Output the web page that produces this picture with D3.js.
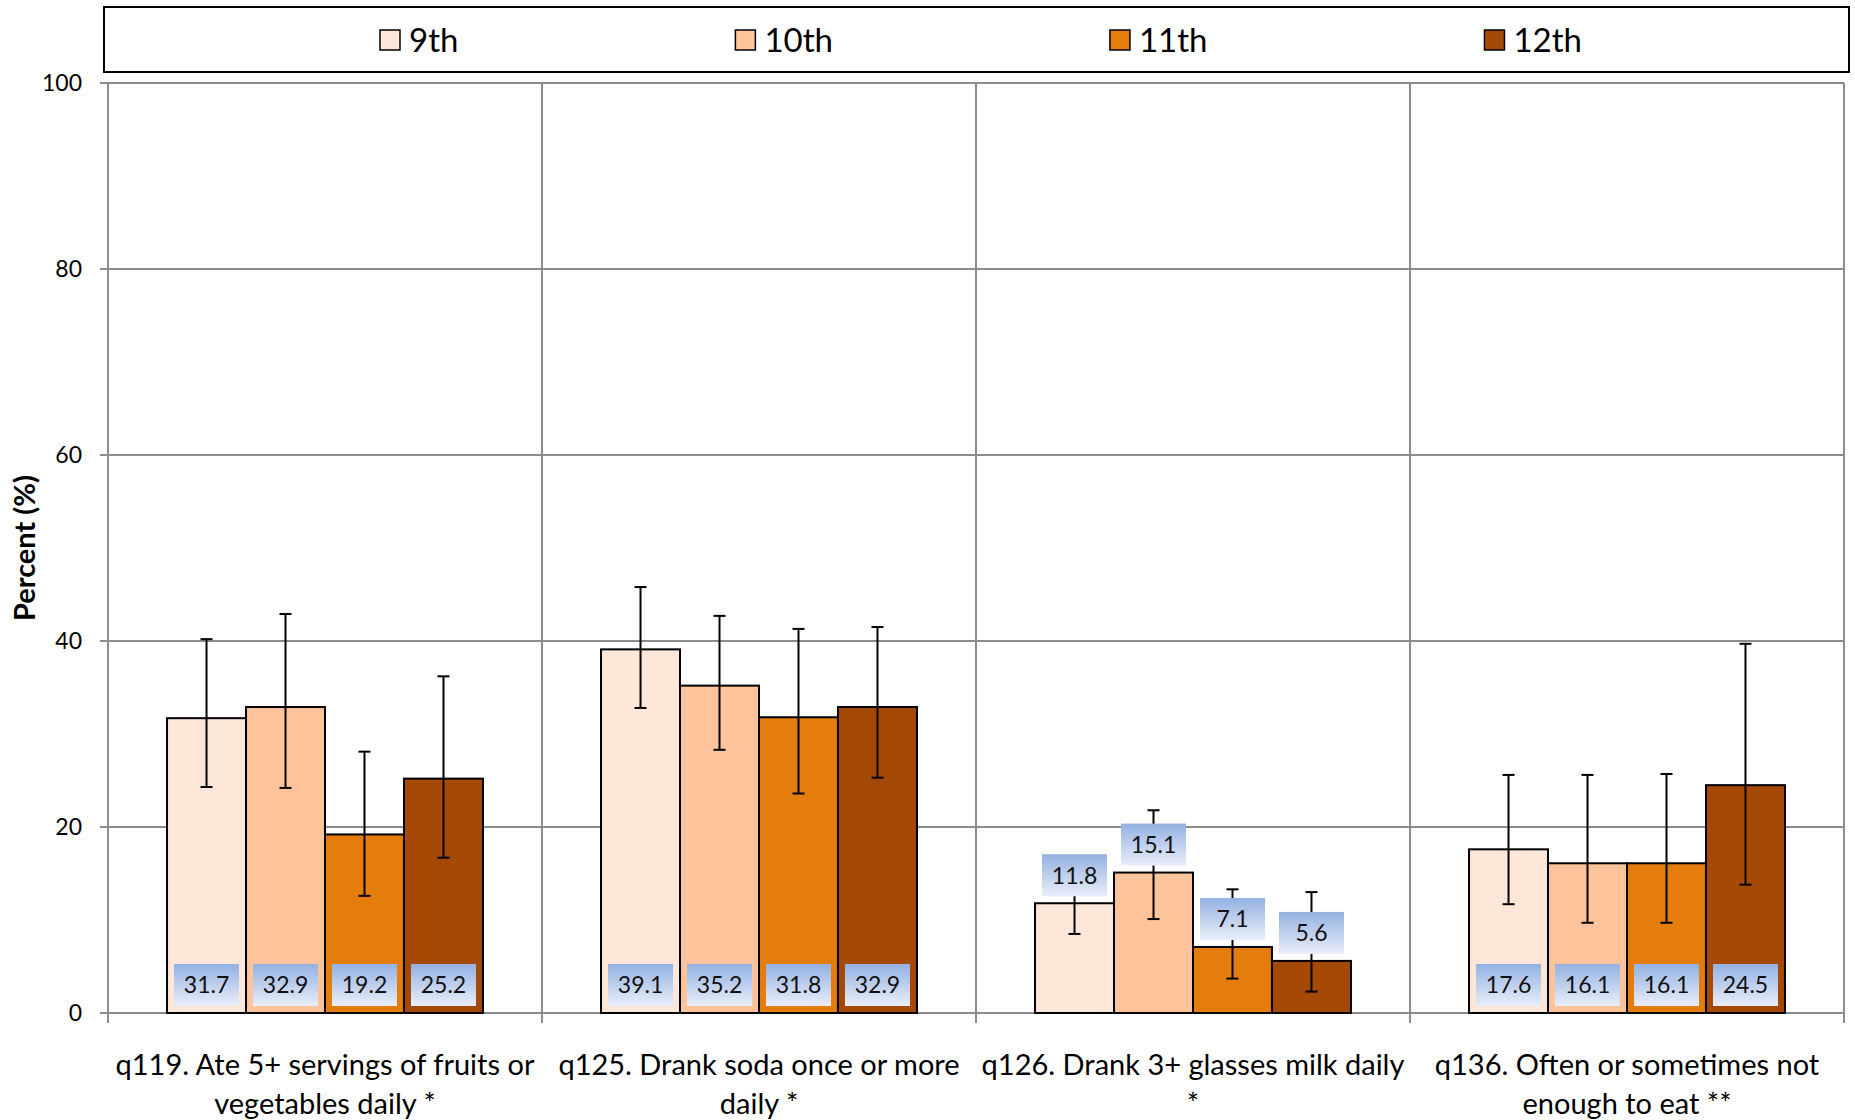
<!DOCTYPE html>
<html>
<head>
<meta charset="utf-8">
<script src="https://cdn.jsdelivr.net/npm/d3@7"></script>
<style>
  body { margin: 0; background: #fff; }
  svg { display: block; font-family: Lato, "Open Sans", sans-serif; }
</style>
</head>
<body>
<div id="container"></div>
<script>
// categories and their two-line labels
var categories = ['q119', 'q125', 'q126', 'q136'];
var categoryLines = [
	['q119. Ate 5+ servings of fruits or', 'vegetables daily *'],
	['q125. Drank soda once or more', 'daily *'],
	['q126. Drank 3+ glasses milk daily', '*'],
	['q136. Often or sometimes not', 'enough to eat **']
];
// where the value label sits for each category
var labelPlacement = ['base', 'base', 'end', 'base'];

var grades = ['9th', '10th', '11th', '12th'];
var gradeColors = ['#fee6d9', '#fdc39b', '#e47d0b', '#a44906'];

// percent per grade, one value per category
var pct9 = [31.7, 39.1, 11.8, 17.6];
var pct10 = [32.9, 35.2, 15.1, 16.1];
var pct11 = [19.2, 31.8, 7.1, 16.1];
var pct12 = [25.2, 32.9, 5.6, 24.5];

// confidence interval bounds
var low9 = [24.3, 32.8, 8.5, 11.7];
var low10 = [24.2, 28.3, 10.1, 9.7];
var low11 = [12.6, 23.6, 3.7, 9.7];
var low12 = [16.7, 25.3, 2.3, 13.8];
var high9 = [40.2, 45.8, 15.6, 25.6];
var high10 = [42.9, 42.7, 21.8, 25.6];
var high11 = [28.1, 41.3, 13.3, 25.7];
var high12 = [36.2, 41.5, 13.0, 39.7];

var yTicks = [0, 20, 40, 60, 80, 100];

var values = [pct9, pct10, pct11, pct12];
var lows = [low9, low10, low11, low12];
var highs = [high9, high10, high11, high12];

var data = [];
categories.forEach(function(c, ci) {
	grades.forEach(function(g, gi) {
		data.push({cat: c, ci: ci, grade: g, gi: gi,
			value: values[gi][ci], low: lows[gi][ci], high: highs[gi][ci]});
	});
});

var width = 1855;
var height = 1120;
var plotLeft = 108, plotRight = 1844, plotTop = 83, plotBottom = 1013;

var svg = d3.select('#container')
	.append('svg')
	.attr('width', width)
	.attr('height', height);

var defs = svg.append('defs');
var grad = defs.append('linearGradient')
	.attr('id', 'labelGrad')
	.attr('x1', 0).attr('y1', 0).attr('x2', 0).attr('y2', 1);
grad.append('stop').attr('offset', '0%').attr('stop-color', '#93b1e2');
grad.append('stop').attr('offset', '100%').attr('stop-color', '#e9eef9');

var x = d3.scaleBand()
	.domain(categories)
	.range([plotLeft, plotRight])
	.paddingInner(0.272)
	.paddingOuter(0.136);

var xInner = d3.scaleBand()
	.domain(grades)
	.range([0, x.bandwidth()]);

var y = d3.scaleLinear()
	.domain([0, 100])
	.range([plotBottom, plotTop]);

var color = d3.scaleOrdinal()
	.domain(grades)
	.range(gradeColors);

// gridlines
svg.append('g')
	.selectAll('line')
	.data(yTicks)
	.enter()
	.append('line')
	.attr('x1', plotLeft - 8)
	.attr('x2', plotRight)
	.attr('y1', (d) => y(d))
	.attr('y2', (d) => y(d))
	.attr('stroke', '#8c8c8c')
	.attr('stroke-width', 2);

var step = x.step();
var boundaries = [plotLeft].concat(categories.map((c, i) => plotLeft + step * (i + 1)));
svg.append('g')
	.selectAll('line')
	.data(boundaries)
	.enter()
	.append('line')
	.attr('x1', (d) => d)
	.attr('x2', (d) => d)
	.attr('y1', plotTop)
	.attr('y2', plotBottom + 10)
	.attr('stroke', '#8c8c8c')
	.attr('stroke-width', 2);

// y tick labels
svg.append('g')
	.selectAll('text')
	.data(yTicks)
	.enter()
	.append('text')
	.attr('x', plotLeft - 26)
	.attr('y', (d) => y(d))
	.attr('dy', '0.35em')
	.attr('text-anchor', 'end')
	.attr('font-size', 23)
	.attr('fill', '#000')
	.text((d) => d);

svg.append('text')
	.attr('transform', 'translate(35,' + ((plotTop + plotBottom) / 2) + ') rotate(-90)')
	.attr('text-anchor', 'middle')
	.attr('font-size', 29)
	.attr('font-weight', 'bold')
	.text('Percent (%)');

// bars
svg.append('g')
	.selectAll('rect')
	.data(data)
	.enter()
	.append('rect')
	.attr('x', (d) => x(d.cat) + xInner(d.grade))
	.attr('y', (d) => y(d.value))
	.attr('width', xInner.bandwidth())
	.attr('height', (d) => y(0) - y(d.value))
	.attr('fill', (d) => color(d.grade))
	.attr('stroke', '#000')
	.attr('stroke-width', 2);

// error bars
var err = svg.append('g')
	.attr('stroke', '#000')
	.attr('stroke-width', 2);
var cx = (d) => x(d.cat) + xInner(d.grade) + xInner.bandwidth() / 2;
err.selectAll('line.v')
	.data(data)
	.enter()
	.append('line')
	.attr('class', 'v')
	.attr('x1', cx).attr('x2', cx)
	.attr('y1', (d) => y(d.low))
	.attr('y2', (d) => y(d.high));
err.selectAll('line.hi')
	.data(data)
	.enter()
	.append('line')
	.attr('class', 'hi')
	.attr('x1', (d) => cx(d) - 6).attr('x2', (d) => cx(d) + 6)
	.attr('y1', (d) => y(d.high))
	.attr('y2', (d) => y(d.high));
err.selectAll('line.lo')
	.data(data)
	.enter()
	.append('line')
	.attr('class', 'lo')
	.attr('x1', (d) => cx(d) - 6).attr('x2', (d) => cx(d) + 6)
	.attr('y1', (d) => y(d.low))
	.attr('y2', (d) => y(d.low));

// value labels
var boxW = 65, boxH = 42;
var labelBottom = function(d) {
	return labelPlacement[d.ci] === 'end' ? y(d.value) - 7 : y(0) - 7;
};
var labels = svg.append('g')
	.selectAll('g')
	.data(data)
	.enter()
	.append('g')
	.attr('transform', (d) => 'translate(' + cx(d) + ',' + (labelBottom(d) - boxH / 2) + ')');
labels.append('rect')
	.attr('x', -boxW / 2)
	.attr('y', -boxH / 2)
	.attr('width', boxW)
	.attr('height', boxH)
	.attr('fill', 'url(#labelGrad)');
labels.append('text')
	.attr('text-anchor', 'middle')
	.attr('dy', '0.36em')
	.attr('font-size', 23)
	.attr('fill', '#111')
	.text((d) => d.value.toFixed(1));

// category labels
var catText = svg.append('g')
	.selectAll('text')
	.data(categories)
	.enter()
	.append('text')
	.attr('text-anchor', 'middle')
	.attr('font-size', 29)
	.attr('fill', '#000')
	.attr('transform', (d) => 'translate(' + (x(d) + x.bandwidth() / 2) + ',1075)');
catText.selectAll('tspan')
	.data((d, i) => categoryLines[i])
	.enter()
	.append('tspan')
	.attr('x', 0)
	.attr('y', (d, i) => i * 39)
	.text((d) => d);

// legend
svg.append('rect')
	.attr('x', 104)
	.attr('y', 7)
	.attr('width', 1745)
	.attr('height', 65)
	.attr('fill', '#fff')
	.attr('stroke', '#000')
	.attr('stroke-width', 2);

var legend = svg.append('g')
	.selectAll('g')
	.data(grades)
	.enter()
	.append('g');
legend.append('rect')
	.attr('width', 20)
	.attr('height', 20)
	.attr('fill', (d) => color(d))
	.attr('stroke', '#000')
	.attr('stroke-width', 1.5);
legend.append('text')
	.attr('x', 29)
	.attr('y', 10)
	.attr('dy', '0.36em')
	.attr('font-size', 33)
	.text((d) => d);

// lay entries out one after another, like the spreadsheet legend
var legendPos = 380;
legend.each(function() {
	var g = d3.select(this);
	g.attr('transform', 'translate(' + legendPos + ',30)');
	legendPos += 29 + g.select('text').node().getComputedTextLength() + 277;
});
</script>
</body>
</html>
